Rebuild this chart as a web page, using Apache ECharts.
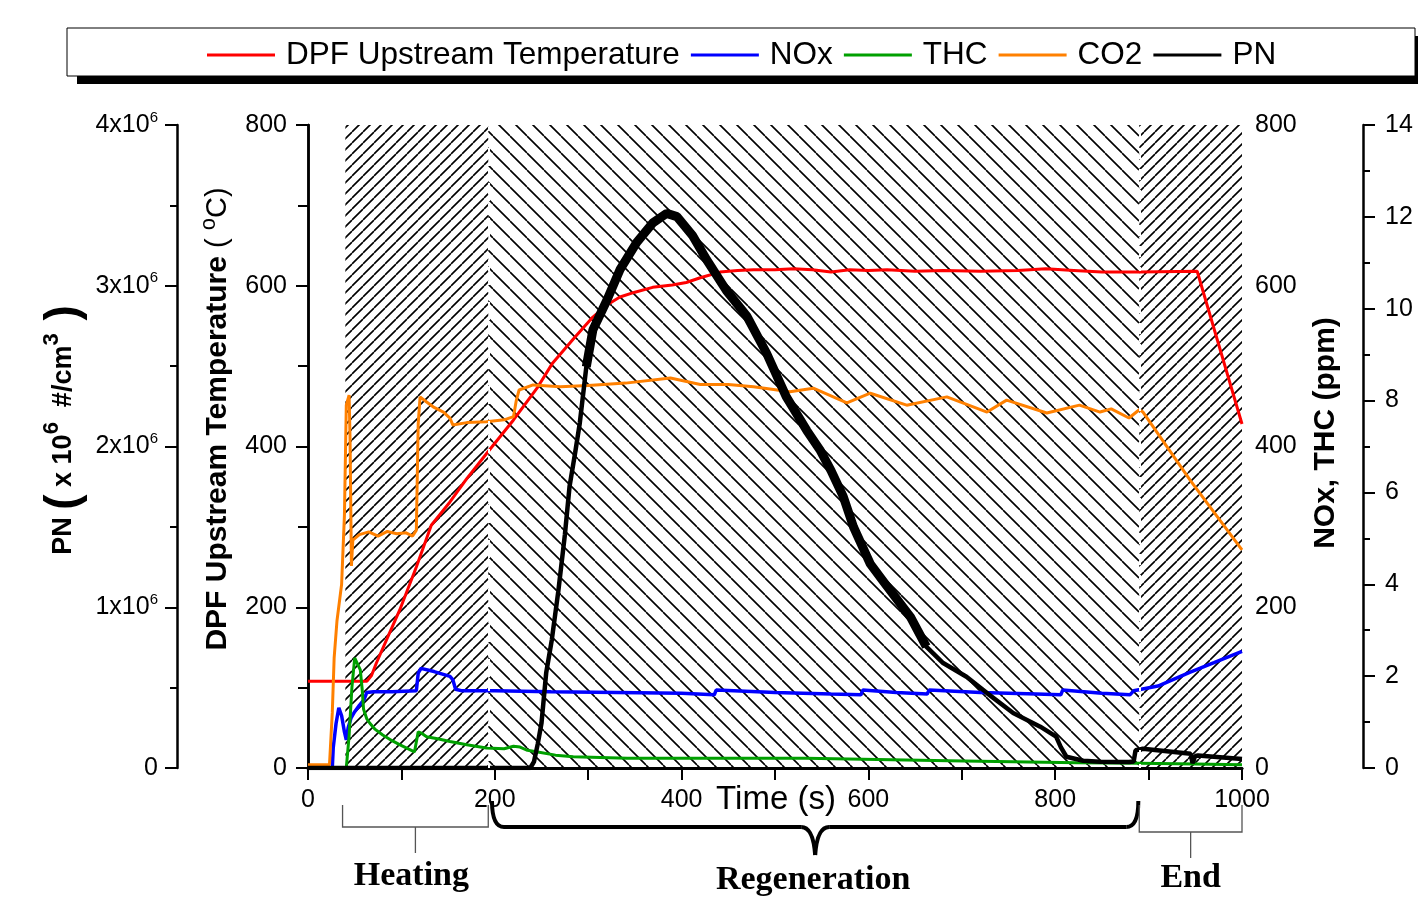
<!DOCTYPE html>
<html>
<head>
<meta charset="utf-8">
<script src="https://cdn.jsdelivr.net/npm/echarts@6/dist/echarts.min.js"></script>
<style>
  html, body { margin: 0; padding: 0; background: #fff; }
  #main { width: 1418px; height: 897px; }
</style>
</head>
<body>
<div id="main"></div>
<script>
// series names / colours
var legendNames = ['DPF Upstream Temperature', 'NOx', 'THC', 'CO2', 'PN'];
var lineColors = ['#ff0000', '#0000ff', '#00a000', '#ff8000', '#000000'];

// phases under the time axis: [label, start s, end s]
var phases = [['Heating', 37, 193], ['Regeneration', 197, 889], ['End', 890, 1000]];
// hatched regions: [start, end, direction]  1 = "/"  -1 = "\"
var hatchAreas = [[40, 193, 1], [193, 890, -1], [890, 1000, 1]];

// DPF upstream temperature (deg C) [time s, value]
var tempData = [[0,108],[63,108],[68,115],[73,130],[85,162],[98,196],[116,250],[132,302],[152,331],[170,360],
  [191,391],[220,433],[246,474],[262,504],[285,535],[305,561],[320,576],[334,586],[350,592],[369,598],
  [390,601],[405,604],[420,610],[441,617],[460,619],[477,620],[500,620],[520,621],[540,620],[560,617],
  [580,620],[600,619],[620,620],[650,618],[680,619],[720,618],[760,619],[790,621],[820,619],[850,617],
  [890,617],[952,618],[1000,428]];

// NOx (ppm)
var noxData = [[26,0],[27,25],[30,55],[33,75],[36,65],[39,45],[41,35],[43,50],[46,62],[50,70],[55,78],
  [60,85],[63,94],[70,95],[90,95],[116,96],[118,118],[121,124],[135,120],[152,114],[155,110],[158,98],
  [165,96],[200,96],[260,95],[330,94],[400,93],[435,91],[437,97],[500,94],[560,92],[592,91],[594,97],
  [630,94],[663,92],[665,97],[720,94],[780,92],[806,91],[808,97],[850,93],[880,91],[884,96],[910,102],
  [944,119],[970,131],[1000,145]];

// THC (ppm)
var thcData = [[0,0],[41,0],[44,40],[47,100],[50,137],[52,135],[56,122],[58,98],[59.5,73],[63,61],[66,56],
  [72,48],[80,41],[90,34],[98,29],[114,20],[115,20],[118,45],[122,43],[127,39],[140,36],[152,33],
  [170,29],[191,25],[210,24],[220,27],[227,26],[235,22],[246,20],[265,16],[284,14],[342,12],[533,12],
  [686,9],[823,6.6],[890,6],[950,5],[1000,4]];

// CO2 (%)
var co2Data = [[0,0.07],[23,0.07],[26,1.2],[28,2.4],[31,3.2],[36,4.0],[39,5.5],[41,7.9],[44,8.12],[45,7.2],
  [46.5,4.4],[48,4.96],[55,5.08],[65,5.14],[75,5.05],[85,5.15],[95,5.1],[105,5.12],[112,5.05],[116,5.18],
  [118,7.5],[120,8.08],[127,7.97],[135,7.85],[145,7.75],[152,7.62],[155,7.47],[170,7.52],[191,7.54],
  [210,7.58],[220,7.65],[223,8.0],[226,8.23],[241,8.34],[270,8.3],[300,8.33],[340,8.38],[388,8.49],
  [420,8.35],[450,8.35],[477,8.3],[516,8.19],[541,8.27],[577,7.95],[602,8.16],[641,7.9],[684,8.08],
  [727,7.75],[748,8.01],[791,7.73],[826,7.9],[848,7.75],[860,7.82],[879,7.62],[890,7.8],[894,7.75],
  [945,6.25],[1000,4.75]];

// PN (#/cm3)
var pnData = [[0,0],[238,0],[242,40000],[246,150000],[250,280000],[255,591000],[261,796000],[268,1100000],
  [275,1450000],[280,1750000],[286,1960000],[291,2146000],[298,2496000],[305,2725000],[320,2910000],
  [334,3100000],[352,3270000],[369,3390000],[384,3450000],[395,3430000],[412,3310000],[427,3160000],
  [448,2970000],[470,2810000],[491,2580000],[512,2310000],[534,2100000],[548,1980000],[560,1850000],
  [573,1690000],[584,1500000],[602,1270000],[620,1130000],[645,940000],[662,755000],[680,653000],
  [705,568000],[727,466000],[755,342000],[784,257000],[801,195000],[806,130000],[812,70000],[830,45000],
  [848,39000],[879,37000],[884,40000],[886,110000],[894,120000],[945,88000],[947,30000],[950,75000],
  [953,78000],[1000,56000]];

var FONT = 'Liberation Sans, Arial, sans-serif';
var SERIF = 'Liberation Serif, Times New Roman, serif';

function hatch(size, dir) {
  var c = document.createElement('canvas');
  c.width = size; c.height = size;
  var g = c.getContext('2d');
  g.strokeStyle = '#000';
  g.lineWidth = 1.6;
  g.beginPath();
  for (var k = -1; k <= 1; k++) {
    if (dir > 0) { g.moveTo(k * size, size); g.lineTo(k * size + size, 0); }
    else { g.moveTo(k * size, 0); g.lineTo(k * size + size, size); }
  }
  g.stroke();
  return c;
}

var areaData = hatchAreas.map(function (a) {
  var img = hatch(a[2] > 0 ? 11 : 17, a[2]);
  return [{ xAxis: a[0], itemStyle: { color: { image: img, repeat: 'repeat' }, opacity: 1 } }, { xAxis: a[1] }];
});

var axisLineStyle = { show: true, lineStyle: { color: '#000', width: 2.5 } };
var tickLine = { color: '#000', width: 2 };

function lineSeries(name, data, color, yi, width, z) {
  return {
    name: name, type: 'line', data: data, xAxisIndex: 0, yAxisIndex: yi,
    showSymbol: false, symbol: 'none', z: z,
    lineStyle: { color: color, width: width }, itemStyle: { color: color }
  };
}

var option = {
  animation: false,
  backgroundColor: '#fff',
  legend: {
    data: legendNames, left: 207, top: 39, padding: 0, itemGap: 11,
    itemWidth: 68, itemHeight: 3, icon: 'rect',
    textStyle: { fontSize: 31.5, fontFamily: FONT, color: '#000', padding: [0, 0, 0, 6] }
  },
  grid: { left: 308, right: 176, top: 125, bottom: 129, outerBoundsMode: 'none', containLabel: false },
  xAxis: [{
    type: 'value', min: 0, max: 1000, interval: 100, position: 'bottom',
    axisLine: axisLineStyle,
    axisTick: { show: true, length: 12, inside: false, lineStyle: tickLine },
    axisLabel: { margin: 20, fontSize: 25, fontFamily: FONT, color: '#000',
      formatter: function (v) { return v % 200 === 0 ? String(v) : ''; } },
    splitLine: { show: false }
  }, {
    type: 'value', min: 0, max: 1000, interval: 100, position: 'top',
    axisLine: { show: true, lineStyle: { color: '#000', width: 3 } },
    axisTick: { show: true, inside: true, length: 4, lineStyle: { color: '#000', width: 1 } },
    axisLabel: { show: false }, splitLine: { show: false }
  }],
  yAxis: [{
    // DPF temperature, left inner
    type: 'value', min: 0, max: 800, interval: 200, position: 'left', offset: 0,
    axisLine: axisLineStyle,
    axisTick: { show: true, length: 12, lineStyle: tickLine },
    minorTick: { show: true, splitNumber: 2, length: 7, lineStyle: tickLine },
    axisLabel: { margin: 21, fontSize: 25, fontFamily: FONT, color: '#000' },
    splitLine: { show: false }
  }, {
    // NOx, THC, right inner
    type: 'value', min: 0, max: 800, interval: 200, position: 'right', offset: 0,
    axisLine: axisLineStyle,
    axisTick: { show: true, inside: true, length: 10, lineStyle: tickLine },
    minorTick: { show: true, splitNumber: 2, length: 10, lineStyle: tickLine },
    axisLabel: { margin: 13, fontSize: 25, fontFamily: FONT, color: '#000' },
    splitLine: { show: false }
  }, {
    // PN, left outer
    type: 'value', min: 0, max: 4000000, interval: 1000000, position: 'left', offset: 131,
    axisLine: axisLineStyle,
    axisTick: { show: true, length: 12, lineStyle: tickLine },
    minorTick: { show: true, splitNumber: 2, length: 7, lineStyle: tickLine },
    axisLabel: {
      margin: 19, color: '#000',
      formatter: function (v) { return v === 0 ? '{n|0}' : '{n|' + (v / 1e6) + 'x10}{s|6}'; },
      rich: {
        n: { fontSize: 25, fontFamily: FONT, color: '#000', lineHeight: 30, verticalAlign: 'middle' },
        s: { fontSize: 15, fontFamily: FONT, color: '#000', lineHeight: 15, verticalAlign: 'top' }
      }
    },
    splitLine: { show: false }
  }, {
    // CO2, right outer
    type: 'value', min: 0, max: 14, interval: 2, position: 'right', offset: 121,
    axisLine: axisLineStyle,
    axisTick: { show: true, length: 12, lineStyle: tickLine },
    minorTick: { show: true, splitNumber: 2, length: 7, lineStyle: tickLine },
    axisLabel: { margin: 22, fontSize: 25, fontFamily: FONT, color: '#000' },
    splitLine: { show: false }
  }],
  series: [
    {
      name: 'hatch', type: 'line', data: [], xAxisIndex: 0, yAxisIndex: 0, z: 1, silent: true,
      markArea: { silent: true, data: areaData },
      markLine: { silent: true, symbol: 'none', label: { show: false },
        lineStyle: { color: '#fff', type: [4, 3], width: 2 },
        data: [{ xAxis: hatchAreas[1][0] }, { xAxis: hatchAreas[2][0] }] }
    },
    lineSeries(legendNames[0], tempData, lineColors[0], 0, 3, 3),
    lineSeries(legendNames[1], noxData, lineColors[1], 1, 3.5, 3),
    lineSeries(legendNames[2], thcData, lineColors[2], 1, 3, 3),
    lineSeries(legendNames[3], co2Data, lineColors[3], 3, 3, 3),
    lineSeries(legendNames[4], pnData, lineColors[4], 2, 4.5, 4),
    // the noisy part of the PN trace shows as a wide band
    lineSeries(legendNames[4], pnData.slice(12, 35), lineColors[4], 2, 9, 4)
  ]
};

var chart = echarts.init(document.getElementById('main'), null, { renderer: 'canvas' });
chart.setOption(option);

function px(t) { return chart.convertToPixel({ xAxisIndex: 0 }, t); }

var g = [];
// legend box with black shadow
g.push({ type: 'rect', z: -2, shape: { x: 77, y: 36, width: 1345, height: 48 }, style: { fill: '#000' } });
g.push({ type: 'rect', z: -1, shape: { x: 67, y: 28, width: 1348, height: 48 }, style: { fill: '#fff', stroke: '#000', lineWidth: 1 } });

// axis names
g.push({ type: 'text', x: 218, y: 419, rotation: Math.PI / 2,
  style: { text: '{b|DPF Upstream Temperature}{r| ( }{s|o}{r|C)}', align: 'center', verticalAlign: 'middle',
    rich: {
      b: { fontSize: 30, fontWeight: 'bold', fontFamily: FONT, fill: '#000', lineHeight: 40, verticalAlign: 'middle' },
      r: { fontSize: 29, fontFamily: FONT, fill: '#000', lineHeight: 40, verticalAlign: 'middle' },
      s: { fontSize: 22, fontFamily: FONT, fill: '#000', lineHeight: 20, verticalAlign: 'top' }
    } } });
g.push({ type: 'text', x: 64, y: 430, rotation: Math.PI / 2,
  style: { text: '{b|PN }{p|(}{b| x 10}{s|6}{b|  #/cm}{s|3}{p| )}', align: 'center', verticalAlign: 'middle',
    rich: {
      b: { fontSize: 27, fontWeight: 'bold', fontFamily: FONT, fill: '#000', lineHeight: 46, verticalAlign: 'middle' },
      p: { fontSize: 46, fontWeight: 'bold', fontFamily: FONT, fill: '#000', lineHeight: 46, verticalAlign: 'middle' },
      s: { fontSize: 22, fontWeight: 'bold', fontFamily: FONT, fill: '#000', lineHeight: 22, verticalAlign: 'top' }
    } } });
g.push({ type: 'text', x: 1326, y: 433, rotation: Math.PI / 2,
  style: { text: 'NOx, THC (ppm)', align: 'center', verticalAlign: 'middle',
    font: 'bold 30px ' + FONT, fill: '#000' } });
g.push({ type: 'text', x: 776, y: 800,
  style: { text: 'Time (s)', align: 'center', verticalAlign: 'middle', font: '33px ' + FONT, fill: '#000' } });

// phase brackets
var yTop = 805, yBar = 827;
phases.forEach(function (p) {
  var a = px(p[1]), b = px(p[2]), m = (a + b) / 2;
  if (p[0] === 'Regeneration') {
    var st = { stroke: '#000', lineWidth: 4, fill: null };
    g.push({ type: 'bezierCurve', shape: { x1: a, y1: yTop - 4, x2: a + 12, y2: yBar, cpx1: a, cpy1: yBar }, style: st });
    g.push({ type: 'line', shape: { x1: a + 12, y1: yBar, x2: m - 14, y2: yBar }, style: st });
    g.push({ type: 'bezierCurve', shape: { x1: m - 14, y1: yBar, x2: m, y2: yBar + 28, cpx1: m - 2, cpy1: yBar }, style: st });
    g.push({ type: 'bezierCurve', shape: { x1: m, y1: yBar + 28, x2: m + 14, y2: yBar, cpx1: m + 2, cpy1: yBar }, style: st });
    g.push({ type: 'line', shape: { x1: m + 14, y1: yBar, x2: b - 12, y2: yBar }, style: st });
    g.push({ type: 'bezierCurve', shape: { x1: b - 12, y1: yBar, x2: b, y2: yTop - 4, cpx1: b, cpy1: yBar }, style: st });
    g.push({ type: 'text', x: m - 2, y: 880, style: { text: p[0], align: 'center', verticalAlign: 'middle',
      font: 'bold 34px ' + SERIF, fill: '#000' } });
  } else {
    var isEnd = p[0] === 'End';
    var yb = isEnd ? yBar + 5 : yBar;
    g.push({ type: 'polyline', shape: { points: [[a, yTop], [a, yb], [b, yb], [b, yTop]] },
      style: { stroke: '#555', lineWidth: 1.3, fill: null } });
    g.push({ type: 'line', shape: { x1: m, y1: yb, x2: m, y2: yb + 26 }, style: { stroke: '#555', lineWidth: 1.3 } });
    g.push({ type: 'text', x: m - (isEnd ? 0 : 4), y: isEnd ? 878 : 876, style: { text: p[0], align: 'center', verticalAlign: 'middle',
      font: 'bold 34px ' + SERIF, fill: '#000' } });
  }
});

chart.setOption({ graphic: g });
</script>
</body>
</html>
